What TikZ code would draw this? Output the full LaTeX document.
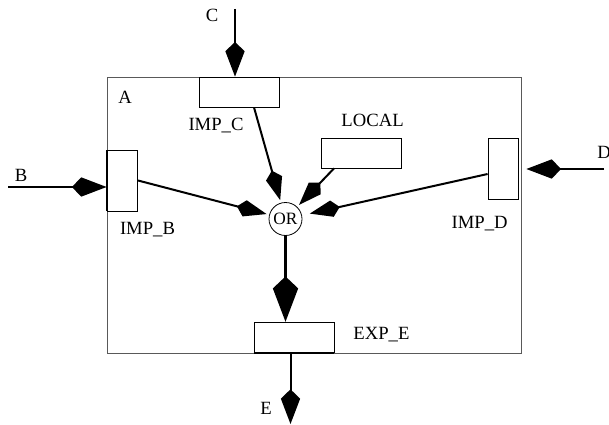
\documentclass[tikz,border=0pt]{standalone}
\usepackage{fontspec}
\setmainfont{Liberation Serif}
\usetikzlibrary{arrows.meta,calc}
\begin{document}
\begin{tikzpicture}[x=0.75pt,y=-0.75pt,
  box/.style={draw,line width=0.6pt,fill=white,inner sep=0pt},
  lbl/.style={font=\fontsize{14}{16}\selectfont,inner sep=0pt},
  conn/.style={line width=1.5pt},
  dia/.style={-{Kite[length=26pt,width=14.5pt,inset=7pt]}},
  sdia/.style={-{Kite[length=23pt,width=12.5pt,inset=6pt]}},
  bigdia/.style={-{Kite[length=34pt,width=19pt,inset=9pt]}}]
\useasboundingbox (0,0) rectangle (609,424);
% outer block
\node[draw=black!65,line width=0.7pt,minimum width=310.5pt,minimum height=207pt,inner sep=0pt] (A) at (314,215) {};
% ports
\node[box,minimum width=60pt,minimum height=22.5pt] (IMPC) at (239,92) {};
\node[box,minimum width=60pt,minimum height=22.5pt] (LOCAL) at (361.5,153) {};
\node[box,minimum width=23pt,minimum height=45.75pt] (IMPB) at (122.3,180.5) {};
\node[box,minimum width=22.5pt,minimum height=45.75pt] (IMPD) at (503,168.5) {};
\node[box,minimum width=60pt,minimum height=23pt] (EXPE) at (294,337.5) {};
\draw[line width=1.5pt] (IMPB.north west) -- (IMPB.south west);
\draw[line width=1.5pt] (EXPE.south west) -- (EXPE.south east);
\node[draw,circle,line width=0.6pt,minimum size=24.75pt,inner sep=0pt,font=\fontsize{13}{15}\selectfont] (OR) at (285.5,219) {OR};
% labels
\node[lbl] (lA) at (125,97) {A};
\node[lbl] (lC) at (212,15) {C};
\node[lbl] (lB) at (21,175) {B};
\node[lbl] (lD) at (604,152) {D};
\node[lbl] (lE) at (266,408) {E};
\node[lbl] (lIMPC) at (216,126) {IMP\_C};
\node[lbl] (lLOCAL) at (372.6,120) {LOCAL};
\node[lbl] (lIMPB) at (147.5,230) {IMP\_B};
\node[lbl] (lIMPD) at (479.6,224) {IMP\_D};
\node[lbl] (lEXPE) at (381.4,335) {EXP\_E};
% external connectors
\coordinate (Cin) at (235,9);
\coordinate (Bin) at (8,187);
\coordinate (Din) at (604,169);
\coordinate (Eout) at (290.5,424);
\draw[conn,dia] (Cin) -- (Cin |- IMPC.north);
\draw[conn,dia] (Bin) -- (Bin -| IMPB.west);
\draw[conn,dia,shorten >=6pt] (Din) -- (Din -| IMPD.east);
\draw[conn,dia] (Eout |- EXPE.south) -- (Eout);
% internal connectors
\coordinate (Cout) at ($(IMPC.south)+(15,0)$);
\coordinate (Lout) at ($(LOCAL.south)+(-27.5,0)$);
\coordinate (Dout) at ($(IMPD.west)+(0,5.5)$);
\draw[conn,sdia,shorten >=2pt] (Cout) -- (OR);
\draw[conn,sdia,shorten >=2pt] (Lout) -- (OR);
\draw[conn,sdia,shorten >=2pt] (IMPB.east) -- (OR);
\draw[conn,sdia,shorten >=6pt] (Dout) -- (OR);
\draw[line width=2.2pt,bigdia] (OR.south) -- (OR.south |- EXPE.north);
\end{tikzpicture}
\end{document}
